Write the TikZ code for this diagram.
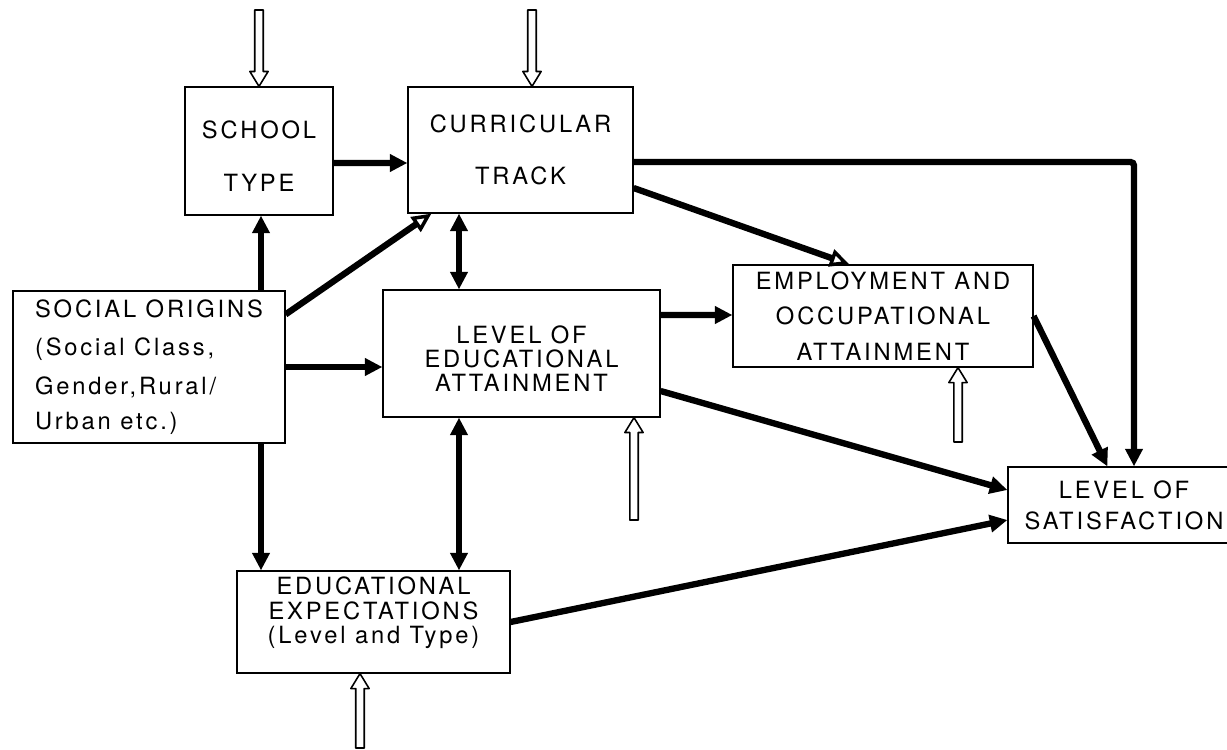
\documentclass[tikz,border=0pt]{standalone}
\usepackage{fontspec}
\setmainfont[LetterSpace=12]{TeX Gyre Heros}
\usetikzlibrary{positioning,arrows.meta,calc}

\tikzset{
  block/.style={draw, line width=0.7pt, align=center, inner sep=0pt,
    font=\fontsize{13.5}{14.5}\selectfont},
  arr/.style={line width=3.6pt, -{Triangle[length=10pt,width=9.6pt]}},
  arrboth/.style={line width=3.6pt,
    {Triangle[length=10pt,width=9.6pt]}-{Triangle[length=10pt,width=9.6pt]}},
  arropen/.style={line width=3.6pt,
    -{Triangle[open,length=11pt,width=10pt,line width=2pt]}},
  inflow/.style={draw, line width=0.9pt, fill=white, line join=round}
}

% hollow input arrow: #1 tail, #2 head (vertical)
\newcommand{\inarrow}[2]{%
  \draw[inflow] let \p1=(#1), \p2=(#2), \n1={ifthenelse(\y2>\y1,8.5,-8.5)} in
    ({\x1-2.4pt},\y1) -- ({\x1-2.4pt},{\y2-(\n1)*1pt}) -- ({\x1-5.2pt},{\y2-(\n1)*1pt})
    -- (\x1,\y2) -- ({\x1+5.2pt},{\y2-(\n1)*1pt}) -- ({\x1+2.4pt},{\y2-(\n1)*1pt})
    -- ({\x1+2.4pt},\y1) -- cycle;}

\begin{document}
\begin{tikzpicture}[x=0.02cm, y=-0.02cm]
\useasboundingbox (0,0) rectangle (1227,750);

% boxes
\node[block, minimum width=2.96cm, minimum height=2.56cm] (school) at (259,151)
  {\mbox{}\\[1.6pt]SCHOOL\\[16pt]TYPE};
\node[block, minimum width=4.5cm, minimum height=2.52cm] (track) at (520.5,150)
  {CURRICULAR\\[15pt]TRACK};
\node[block, align=left, minimum width=5.44cm, minimum height=3.04cm] (origins) at (149,367)
  {SOCIAL ORIGINS\\[7.5pt](Social Class,\\[7.5pt]Gender,Rural/\\[5.5pt]Urban etc.)};
\node[block, minimum width=5.54cm, minimum height=2.54cm] (attain) at (521.5,353.5)
  {\mbox{}\\[1.6pt]LEVEL OF\\[-0.8pt]EDUCATIONAL\\[-0.8pt]ATTAINMENT};
\node[block, minimum width=6cm, minimum height=2.04cm] (employ) at (883,316)
  {EMPLOYMENT AND\\[5.8pt]OCCUPATIONAL\\[5.8pt]ATTAINMENT};
\node[block, minimum width=4.64cm, minimum height=1.52cm] (satisf) at (1124,505)
  {LEVEL OF\\[3pt]SATISFACTION};
\node[block, minimum width=5.46cm, minimum height=2.04cm] (expect) at (373.5,622)
  {EDUCATIONAL\\[-0.5pt]EXPECTATIONS\\[-0.5pt](Level and Type)\\[-1pt]\mbox{}\hspace{12pt}};

% helper coordinates
\coordinate (c1) at (261,0);
\coordinate (c2) at (459,0);
\coordinate (c3) at (1134,0);
\coordinate (h1) at (259,10);
\coordinate (h2) at (532,10);
\coordinate (h3) at (634,520);
\coordinate (h4) at (958,442);
\coordinate (h5) at (360,748);

% paths
\draw[arr] ([yshift=-0.24cm]school.east) -- ([yshift=-0.26cm]track.west);
\draw[arr] (origins.north -| c1) -- (school.south -| c1);
\draw[arr] (origins.south -| c1) -- (expect.north -| c1);
\draw[arrboth] (track.south -| c2) -- (attain.north -| c2);
\draw[arrboth] (attain.south -| c2) -- (expect.north -| c2);
\draw[arr] (origins.east) -- (origins.east -| attain.west);
\draw[arropen] ([yshift=-0.48cm]origins.north east) -- ([xshift=0.48cm]track.south west);
\draw[arropen] ([yshift=-0.76cm]track.east) -- ([xshift=2.34cm]employ.north west);
\draw[arr, rounded corners=2pt] ([yshift=-0.24cm]track.east) -| (satisf.north -| c3);
\draw[arr] ([yshift=0.77cm]attain.east) -- ([yshift=0.02cm]employ.west);
\draw[arr] (employ.east) -- ([xshift=2cm]satisf.north west);
\draw[arr] ([yshift=-0.75cm]attain.east) -- ([yshift=0.3cm]satisf.west);
\draw[arr] (expect.east) -- ([yshift=-0.3cm]satisf.west);

% outside influences
\inarrow{h1}{school.north -| h1}
\inarrow{h2}{track.north -| h2}
\inarrow{h3}{attain.south -| h3}
\inarrow{h4}{employ.south -| h4}
\inarrow{h5}{expect.south -| h5}
\end{tikzpicture}
\end{document}
